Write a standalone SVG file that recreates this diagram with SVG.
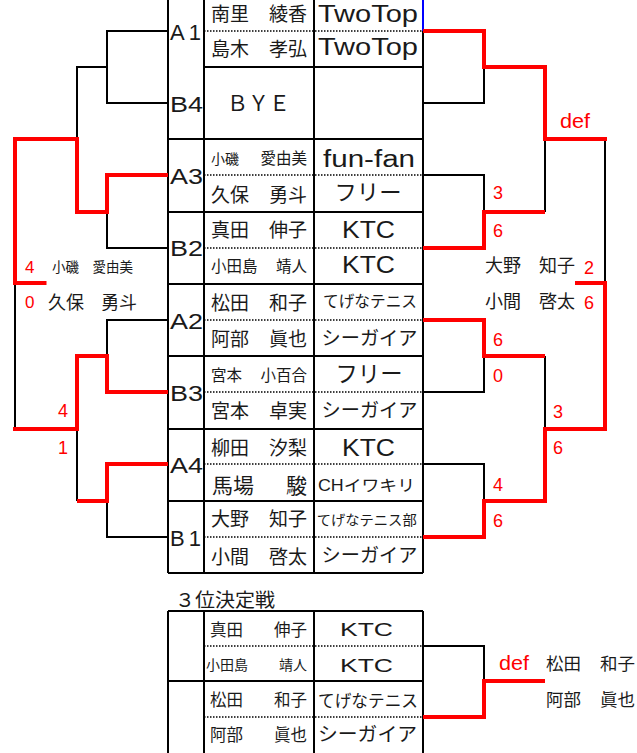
<svg xmlns="http://www.w3.org/2000/svg" width="637" height="753" viewBox="0 0 637 753">
<style>
.tb{stroke:#000;stroke-width:2;fill:none}
.dt{stroke:#000;stroke-width:1.5;stroke-dasharray:1.5 1.5;fill:none}
.bk{stroke:#000;stroke-width:2;fill:none}
.rd{stroke:#f00;stroke-width:4;fill:none;stroke-linejoin:miter}
.nm{font-family:"Noto Sans CJK JP","Noto Sans CJK SC",sans-serif;font-size:19px;fill:#1a1a1a}
.sm{font-size:15.5px}
.gv{text-anchor:end}
.cl{font-family:"Liberation Sans","Noto Sans CJK JP",sans-serif;font-size:23px;fill:#1a1a1a;text-anchor:middle}
.lb{font-family:"Liberation Sans",sans-serif;font-size:22px;fill:#1a1a1a}
.sc{font-family:"Liberation Sans",sans-serif;font-size:18px;fill:#f00}
</style>
<rect width="637" height="753" fill="#fff"/>

<g id="table">
<path class="tb" d="M168 0V573M204 0V573M314 0V573M423 31V573"/>
<line x1="423" y1="0" x2="423" y2="31" stroke="#00f" stroke-width="2"/>
<path class="tb" d="M204 67H423M168 139H423M168 212H423M168 284H423M168 356H423M168 429H423M168 501H423M168 573H423"/>
<path class="dt" d="M204 31H423M204 175H423M204 248H423M204 320H423M204 392H423M204 464H423M204 537H423"/>
</g>

<g id="A1">
<text class="lb" x="170" y="39.5" textLength="31" lengthAdjust="spacing">A1</text>
<text class="nm" x="211" y="20.5">南里</text><text class="nm gv" x="307" y="20.5">綾香</text>
<text class="nm" x="211" y="56">島木</text><text class="nm gv" x="307" y="56">孝弘</text>
<text class="cl" x="368" y="22" textLength="100" lengthAdjust="spacingAndGlyphs">TwoTop</text>
<text class="cl" x="368" y="55" textLength="100" lengthAdjust="spacingAndGlyphs">TwoTop</text>
</g>

<g id="B4">
<text class="lb" x="170" y="111.5" textLength="33" lengthAdjust="spacingAndGlyphs">B4</text>
<text class="nm" x="258.5" y="111" style="font-size:21px;text-anchor:middle">ＢＹＥ</text>
</g>

<g id="A3">
<text class="lb" x="170" y="183.5" textLength="33" lengthAdjust="spacingAndGlyphs">A3</text>
<text class="nm sm" x="211" y="164" style="font-size:14px">小磯</text><text class="nm sm gv" x="307" y="164">愛由美</text>
<text class="nm" x="211" y="201.5">久保</text><text class="nm gv" x="307" y="201.5">勇斗</text>
<text class="cl" x="369" y="166.7" textLength="92" lengthAdjust="spacingAndGlyphs">fun-fan</text>
<text class="cl" x="368" y="200" style="font-size:22px" textLength="67" lengthAdjust="spacingAndGlyphs">フリー</text>
</g>

<g id="B2">
<text class="lb" x="170" y="256" textLength="33" lengthAdjust="spacingAndGlyphs">B2</text>
<text class="nm" x="211" y="237">真田</text><text class="nm gv" x="307" y="237">伸子</text>
<text class="nm sm" x="211" y="272">小田島</text><text class="nm sm gv" x="307" y="272">靖人</text>
<text class="cl" x="368.5" y="238.3" textLength="53" lengthAdjust="spacingAndGlyphs">KTC</text>
<text class="cl" x="368.5" y="273" textLength="53" lengthAdjust="spacingAndGlyphs">KTC</text>
</g>

<g id="A2">
<text class="lb" x="170" y="328.5" textLength="33" lengthAdjust="spacingAndGlyphs">A2</text>
<text class="nm" x="211" y="309.5">松田</text><text class="nm gv" x="307" y="309.5">和子</text>
<text class="nm" x="211" y="345.5">阿部</text><text class="nm gv" x="307" y="345.5">眞也</text>
<text class="cl" x="370" y="307" style="font-size:16px" textLength="94" lengthAdjust="spacingAndGlyphs">てげなテニス</text>
<text class="cl" x="369.5" y="345" style="font-size:19.5px" textLength="96" lengthAdjust="spacingAndGlyphs">シーガイア</text>
</g>

<g id="B3">
<text class="lb" x="170" y="400.5" textLength="33" lengthAdjust="spacingAndGlyphs">B3</text>
<text class="nm sm" x="211" y="380.5">宮本</text><text class="nm sm gv" x="307" y="380.5">小百合</text>
<text class="nm" x="211" y="418">宮本</text><text class="nm gv" x="307" y="418">卓実</text>
<text class="cl" x="369" y="382" style="font-size:23px" textLength="67" lengthAdjust="spacingAndGlyphs">フリー</text>
<text class="cl" x="369.5" y="417" style="font-size:19.5px" textLength="96" lengthAdjust="spacingAndGlyphs">シーガイア</text>
</g>

<g id="A4">
<text class="lb" x="170" y="473" textLength="33" lengthAdjust="spacingAndGlyphs">A4</text>
<text class="nm" x="211" y="454.5">柳田</text><text class="nm gv" x="307" y="454.5">汐梨</text>
<text class="nm" x="212" y="493" style="font-size:21px">馬場</text><text class="nm gv" x="307" y="493" style="font-size:21px">駿</text>
<text class="cl" x="368.5" y="456" textLength="53" lengthAdjust="spacingAndGlyphs">KTC</text>
<text class="cl" x="366.5" y="491" style="font-size:16px" textLength="97" lengthAdjust="spacingAndGlyphs">CHイワキリ</text>
</g>

<g id="B1">
<text class="lb" x="170" y="545.5" textLength="31" lengthAdjust="spacing">B1</text>
<text class="nm" x="211" y="525.5">大野</text><text class="nm gv" x="307" y="525.5">知子</text>
<text class="nm" x="211" y="563.5">小間</text><text class="nm gv" x="307" y="563.5">啓太</text>
<text class="cl" x="366.7" y="524.5" style="font-size:14px" textLength="100" lengthAdjust="spacingAndGlyphs">てげなテニス部</text>
<text class="cl" x="369.5" y="562" style="font-size:19.5px" textLength="96" lengthAdjust="spacingAndGlyphs">シーガイア</text>
</g>

<g id="third-place">
<text class="nm" x="175" y="606.5" textLength="100" lengthAdjust="spacingAndGlyphs">３位決定戦</text>
<path class="tb" d="M168 611V753M204 611V753M314 611V753M423 611V753M168 611H423M168 681H423"/>
<path class="dt" d="M204 646H423M204 717H423"/>
<text class="nm" x="210" y="636" style="font-size:16.5px">真田</text><text class="nm gv" x="307" y="636" style="font-size:16.5px">伸子</text>
<text class="nm" x="206" y="670" style="font-size:14px">小田島</text><text class="nm gv" x="307" y="670" style="font-size:14px">靖人</text>
<text class="nm" x="210" y="705.5" style="font-size:16.5px">松田</text><text class="nm gv" x="307" y="705.5" style="font-size:16.5px">和子</text>
<text class="nm" x="210" y="741" style="font-size:16.5px">阿部</text><text class="nm gv" x="307" y="741" style="font-size:16.5px">眞也</text>
<text class="cl" x="366.5" y="636" style="font-size:19px" textLength="53" lengthAdjust="spacingAndGlyphs">KTC</text>
<text class="cl" x="366.5" y="672" style="font-size:19px" textLength="53" lengthAdjust="spacingAndGlyphs">KTC</text>
<text class="cl" x="368" y="707" style="font-size:16.5px" textLength="100" lengthAdjust="spacingAndGlyphs">てげなテニス</text>
<text class="cl" x="367.5" y="741" style="font-size:19.5px" textLength="99" lengthAdjust="spacingAndGlyphs">シーガイア</text>
</g>

<g id="connectors">
<path class="bk" d="M168 31H107V103H168M107 67H77V139M107 212V248H168M168 320H107V356M15 283V429M77 429V501M107 501V537H168"/>
<path class="bk" d="M423 103H484V67M545 139V212M423 175H484V212M423 392H484V356M545 356V429M423 464H484V501M605 139V283M423 646H484V681"/>
<path class="rd" d="M168 175H107V212H77V139H15V283H46.5"/>
<path class="rd" d="M168 392H107V356H77V429H13"/>
<path class="rd" d="M168 464H107V501H77"/>
<path class="rd" d="M423 31H484V67H545V139H607"/>
<path class="rd" d="M423 248H484V212H545"/>
<path class="rd" d="M423 320H484V356H545"/>
<path class="rd" d="M423 537H484V501H545V429H605V283H575"/>
<path class="rd" d="M423 717H484V681H545"/>
</g>

<g id="results">
<text class="sc" x="25" y="273" style="font-size:17px">4</text>
<text class="nm" x="52" y="272" style="font-size:13.5px">小磯</text><text class="nm gv" x="133" y="272" style="font-size:13.5px">愛由美</text>
<text class="sc" x="25" y="308" style="font-size:17px">0</text>
<text class="nm" x="48" y="309" style="font-size:18px">久保</text><text class="nm gv" x="137" y="309" style="font-size:18px">勇斗</text>
<text class="sc" x="68" y="417" text-anchor="end">4</text>
<text class="sc" x="68" y="454" text-anchor="end">1</text>

<text class="sc" x="560" y="127.5" style="font-size:20px" textLength="30" lengthAdjust="spacingAndGlyphs">def</text>
<text class="sc" x="493" y="199">3</text>
<text class="sc" x="493" y="237">6</text>
<text class="sc" x="493" y="346">6</text>
<text class="sc" x="493" y="382">0</text>
<text class="sc" x="553" y="418">3</text>
<text class="sc" x="553" y="454">6</text>
<text class="sc" x="493" y="491">4</text>
<text class="sc" x="493" y="527">6</text>
<text class="nm" x="485" y="272" style="font-size:18px">大野</text><text class="nm gv" x="575" y="272" style="font-size:18px">知子</text>
<text class="sc" x="584" y="274">2</text>
<text class="nm" x="485" y="308" style="font-size:18px">小間</text><text class="nm gv" x="575" y="308" style="font-size:18px">啓太</text>
<text class="sc" x="584" y="309">6</text>

<text class="sc" x="499" y="670" style="font-size:20px" textLength="30" lengthAdjust="spacingAndGlyphs">def</text>
<text class="nm" x="546" y="670" style="font-size:17.5px">松田</text><text class="nm gv" x="635" y="670" style="font-size:17.5px">和子</text>
<text class="nm" x="546" y="706" style="font-size:17.5px">阿部</text><text class="nm gv" x="635" y="706" style="font-size:17.5px">眞也</text>
</g>
</svg>
